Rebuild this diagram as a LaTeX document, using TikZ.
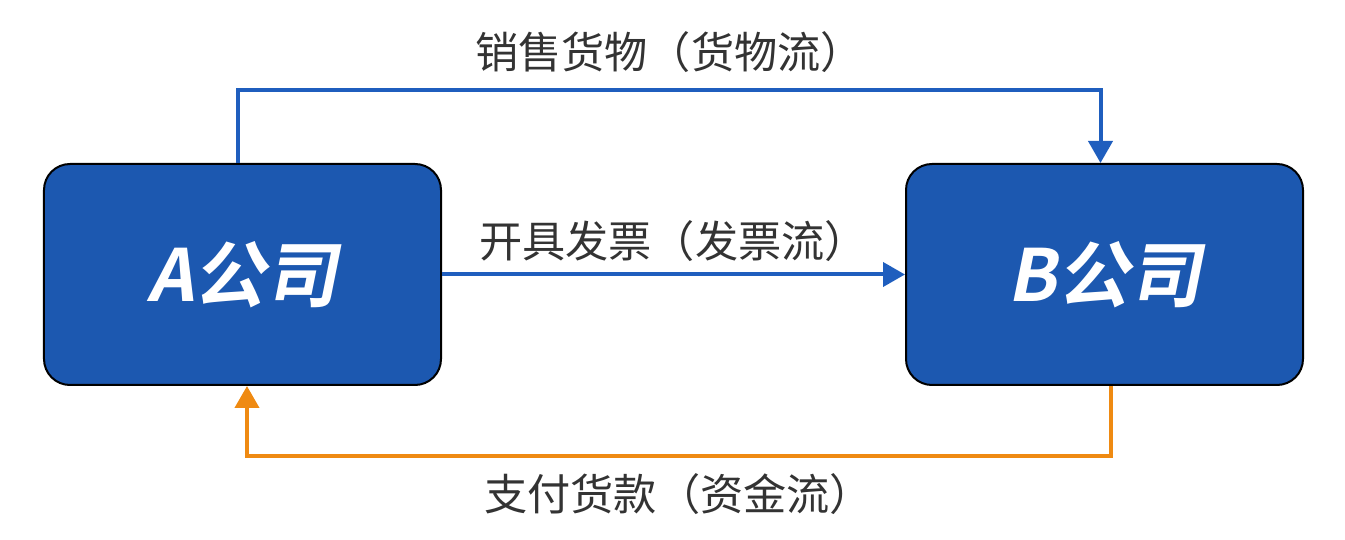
\documentclass[tikz,border=0pt]{standalone}
\usepackage{fontspec}
\setmainfont{Noto Sans CJK SC}
\newfontfamily\companyfont{Noto Sans CJK SC Bold}[FakeSlant=0.2]
\usetikzlibrary{positioning,arrows.meta,calc}

\definecolor{companyblue}{HTML}{1C58B0}
\definecolor{flowblue}{HTML}{1F5EBE}
\definecolor{floworange}{HTML}{EF8A12}
\definecolor{labelgray}{HTML}{333333}

\tikzset{
    company/.style={draw=black, line width=1pt, fill=companyblue, rounded corners=13pt,
        minimum width=198.5pt, minimum height=110.5pt, text=white,
        font=\companyfont\fontsize{36pt}{40pt}\selectfont},
    flowline/.style={line width=2pt, -{Triangle[width=12pt,length=11pt]}},
    flowlabel/.style={text=labelgray, font=\fontsize{21.6pt}{24pt}\selectfont, inner sep=0pt}
}

\begin{document}
\begin{tikzpicture}

    \node [company] (A) {A公司}; % A at left
    \node [company, right=231.5pt of A] (B) {B公司}; % B at right
    \useasboundingbox ($(A.center)+(-121.25pt,137.25pt)$) rectangle ++(672.5pt,-270pt);

    \coordinate [above=36.5pt of A.north, xshift=-2pt] (goodsL); % top left corner
    \coordinate [above=36.5pt of B.north, xshift=-2pt] (goodsR); % top right corner
    \coordinate [below=35pt of B.south, xshift=3pt] (moneyR); % bottom right corner
    \coordinate [below=35pt of A.south, xshift=2.25pt] (moneyL); % bottom left corner

    % goods flow
    \draw [flowline, draw=flowblue] ([xshift=-2pt]A.north) -- (goodsL)
        -- node [flowlabel, midway, yshift=19pt] {销售货物（货物流）} (goodsR)
        -- ([xshift=-2pt]B.north);
    % invoice flow
    \draw [flowline, draw=flowblue] (A.east)
        -- node [flowlabel, midway, yshift=16.5pt] {开具发票（发票流）} (B.west);
    % money flow
    \draw [flowline, draw=floworange] ([xshift=3pt]B.south) -- (moneyR)
        -- node [flowlabel, midway, yshift=-19pt] {支付货款（资金流）} (moneyL)
        -- ([xshift=2.25pt]A.south);

\end{tikzpicture}
\end{document}
